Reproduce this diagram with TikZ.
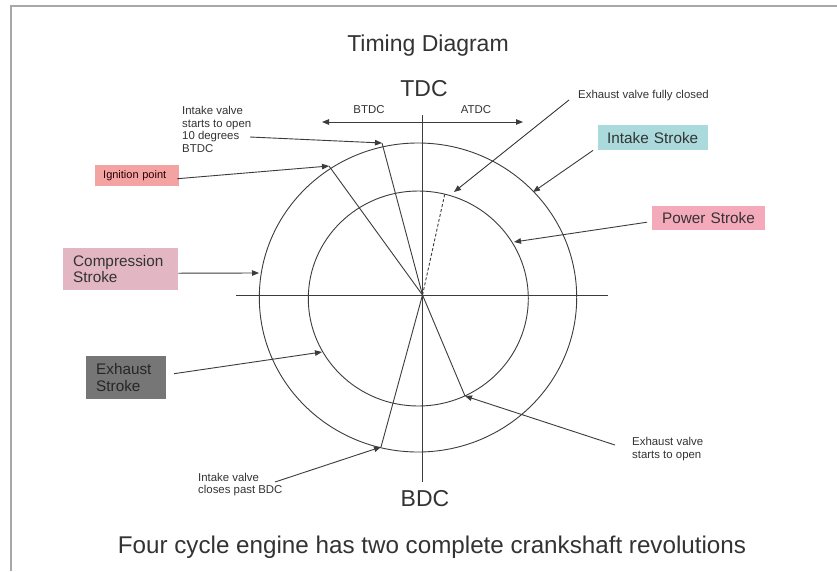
\documentclass[tikz,border=0pt]{standalone}
\usepackage{fontspec}
\setmainfont{Liberation Sans}
\usetikzlibrary{arrows.meta}
\definecolor{ink}{HTML}{333333}
\definecolor{linec}{HTML}{3C3C3C}
\definecolor{framec}{HTML}{A8A8A8}
\definecolor{ignc}{HTML}{F4A3A3}
\definecolor{compc}{HTML}{E2B6C2}
\definecolor{exhc}{HTML}{767676}
\definecolor{intc}{HTML}{AADADC}
\definecolor{pwrc}{HTML}{F5AABB}
\tikzset{
  ln/.style={draw=linec, line width=0.9pt},
  arr/.style={ln, -{Triangle[length=7pt,width=5.5pt]}},
  small/.style={text=ink, inner sep=0pt, anchor=west, align=left, font=\fontsize{11.4}{12.8}\selectfont},
  big/.style={text=ink, inner sep=0pt, font=\fontsize{23}{26}\selectfont},
  box/.style={anchor=north west, align=left, inner ysep=0pt, text=ink, font=\fontsize{15.3}{16.5}\selectfont},
}
\begin{document}
\begin{tikzpicture}[x=1pt,y=-1pt]
\useasboundingbox (0,0) rectangle (837,571);
\fill[white] (0,0) rectangle (837,571);
% frame
\draw[framec, line width=2pt] (11,571) -- (11,6) -- (837,6);
% titles
\node[big] (title) at (428,46) {Timing Diagram};
\node[big] (tdc) at (424,89) {TDC};
\node[big] (bdc) at (425,499) {BDC};
\node[big, font=\fontsize{24.2}{27}\selectfont] (footer) at (432,547) {Four cycle engine has two complete crankshaft revolutions};
% circles and axes
\draw[ln] (418,297.5) ellipse [x radius=158.7, y radius=154.5];
\draw[ln] (418.3,298.5) ellipse [x radius=110, y radius=107.5];
\coordinate (o) at (422.5,295);
\coordinate (hl) at (236,295);
\coordinate (hr) at (608,295);
\coordinate (vt) at (422.5,115);
\coordinate (vb) at (422.5,482);
\draw[ln] (hl) -- (hr);
\draw[ln] (vt) -- (vb);
% BTDC / ATDC
\coordinate (bl) at (322,122);
\coordinate (br) at (523,122);
\draw[ln, {Triangle[length=7pt,width=5.5pt]}-{Triangle[length=7pt,width=5.5pt]}] (bl) -- (br);
\node[small, anchor=center] (btdc) at (369,110) {BTDC};
\node[small, anchor=center] (atdc) at (476,110) {ATDC};
% points on circles
\coordinate (pign) at (329,166);
\coordinate (popen) at (382,143);
\coordinate (pfc) at (445,193);
\coordinate (pso) at (465,396);
\coordinate (pclose) at (381,447);
\coordinate (pcomp) at (259,273);
\coordinate (pexh) at (322,352);
\coordinate (pint) at (533,192);
\coordinate (ppwr) at (514,242);
\coordinate (pfc2) at (454,192);
% spokes
\draw[ln] (o) -- (pign);
\draw[ln] (o) -- (popen);
\draw[ln, dash pattern=on 3pt off 2pt] (o) -- (pfc);
\draw[ln] (o) -- (pso);
\draw[ln] (o) -- (pclose);
% text labels
\node[small] (lblopen) at (182,129.5) {Intake valve\\starts to open\\10 degrees\\BTDC};
\node[small] (lblfc) at (578,96) {Exhaust valve fully closed};
\node[small] (lblso) at (632,449) {Exhaust valve\\starts to open};
\node[small] (lblclose) at (198,484.5) {Intake valve\\closes past BDC};
% boxes
\node[box, fill=ignc, text width=68pt, inner xsep=8pt, minimum height=21pt, text=black!75!red!60!black, font=\fontsize{11}{12}\selectfont] (ign) at (95,165) {Ignition point};
\node[box, fill=compc, text width=95pt, inner xsep=10pt, minimum height=42pt] (comp) at (63,248) {Compression\\Stroke};
\node[box, fill=exhc, text width=60pt, inner xsep=10pt, minimum height=43pt, text=black!85] (exh) at (86,356) {Exhaust\\Stroke};
\node[box, fill=intc, text width=92pt, inner xsep=9pt, minimum height=25pt] (intk) at (598,125) {Intake Stroke};
\node[box, fill=pwrc, text width=93pt, inner xsep=10pt, minimum height=24pt] (pwr) at (652,206) {Power Stroke};
% arrow start points
\coordinate (sopen) at (250,137);
\coordinate (sfc) at (569,100);
\coordinate (sso) at (615,445);
\coordinate (sclose) at (275,482);
% arrows
\draw[arr] (ign.east) ++(-2,3) -- (pign);
\draw[arr] (sopen) -- (popen);
\draw[arr] (comp.east) ++(0,4) -- (pcomp);
\draw[arr] (exh.west) ++(88,-4) -- (pexh);
\draw[arr] (sfc) -- (pfc2);
\draw[arr] (intk.south west) ++(-5,0) -- (pint);
\draw[arr] (pwr.west) ++(-5,4) -- (ppwr);
\draw[arr] (sso) -- (pso);
\draw[arr] (sclose) -- (pclose);
\end{tikzpicture}
\end{document}
